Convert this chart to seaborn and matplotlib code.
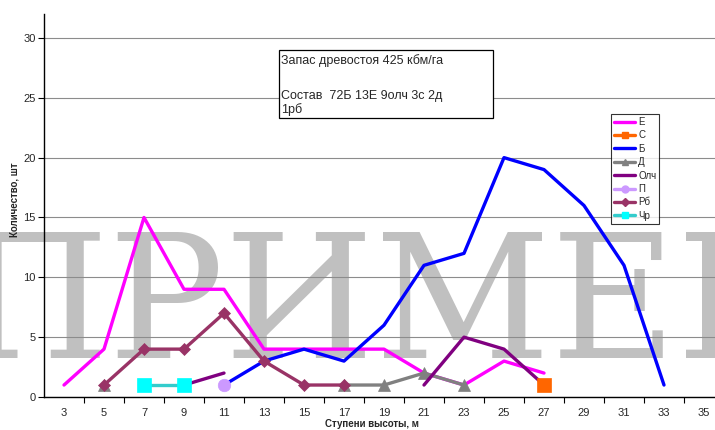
import matplotlib
matplotlib.use("Agg")
import matplotlib.pyplot as plt
from matplotlib.lines import Line2D
from matplotlib.patches import Rectangle
import numpy as np
import pandas as pd
import seaborn as sns

# Height classes (m) and tree counts per species
heights = [3, 5, 7, 9, 11, 13, 15, 17, 19, 21, 23, 25, 27, 29, 31, 33, 35]
N = None
spruce = [1, 4, 15, 9, 9, 4, 4, 4, 4, 2, 1, 3, 2, N, N, N, N]          # Е
pine = [N, N, N, N, N, N, N, N, N, N, N, N, 1, N, N, N, N]              # С
birch = [N, N, N, N, 1, 3, 4, 3, 6, 11, 12, 20, 19, 16, 11, 1, N]      # Б
oak = [N, 1, N, N, N, N, N, 1, 1, 2, 1, N, N, N, N, N, N]              # Д
alder = [N, N, N, 1, 2, N, N, N, N, 1, 5, 4, 1, N, N, N, N]            # Олч
fir = [N, N, N, N, 1, N, N, N, N, N, N, N, N, N, N, N, N]              # П
rowan = [N, 1, 4, 4, 7, 3, 1, 1, N, N, N, N, N, N, N, N, N]            # Рб
cherry = [N, N, 1, 1, N, N, N, N, N, N, N, N, N, N, N, N, N]           # Чр

species = ["Е", "С", "Б", "Д", "Олч", "П", "Рб", "Чр"]
values = [spruce, pine, birch, oak, alder, fir, rowan, cherry]

styles = {
    "Е":   dict(color="#FF00FF", marker=None, mfc=None, ms=0, lms=0, z=3),
    "С":   dict(color="#FF6600", marker="s", mfc="#FF6600", ms=10, lms=5, z=9),
    "Б":   dict(color="#0000FF", marker=None, mfc=None, ms=0, lms=0, z=3),
    "Д":   dict(color="#808080", marker="^", mfc="#808080", ms=8, lms=5, z=4),
    "Олч": dict(color="#800080", marker=None, mfc=None, ms=0, lms=0, z=4),
    "П":   dict(color="#CC99FF", marker="o", mfc="#CC99FF", ms=9, lms=5, z=5),
    "Рб":  dict(color="#993366", marker="D", mfc="#993366", ms=6, lms=4, z=6),
    "Чр":  dict(color="#33CCCC", marker="s", mfc="#00FFFF", ms=10, lms=5, z=7),
}

records = []
for name, vals in zip(species, values):
    for i, v in enumerate(vals):
        if v is not None:
            records.append((name, i, heights[i], v))
df = pd.DataFrame(records, columns=["species", "pos", "height", "count"])

sns.set_style("white")
plt.rcParams["font.family"] = ["Liberation Sans", "DejaVu Sans"]

fig = plt.figure(figsize=(7.15, 4.30), dpi=100)
fig.patch.set_facecolor("white")
ax = fig.add_axes([44 / 715, 33 / 430, 680 / 715, 383 / 430])
ax.set_facecolor("none")

# Watermark behind grid and data
ax.text(-42 / 715, 72 / 430, "ПРИМЕР", transform=fig.transFigure,
        family=["DejaVu Serif"], fontsize=124, color="#C0C0C0",
        ha="left", va="baseline", zorder=0.3, clip_on=False)

# Each species drawn as contiguous runs (gaps where no trees)
for name in species:
    st = styles[name]
    sub = df[df["species"] == name].sort_values("pos")
    run_id = (sub["pos"].diff() != 1).cumsum()
    for _, seg in sub.groupby(run_id):
        kw = dict(color=st["color"], lw=2.4, legend=False, zorder=st["z"])
        if st["marker"]:
            kw.update(marker=st["marker"], markersize=st["ms"],
                      markerfacecolor=st["mfc"], markeredgecolor=st["mfc"],
                      markeredgewidth=0.5)
        sns.lineplot(data=seg, x="pos", y="count", ax=ax, **kw)

ax.set_xlim(-0.5, len(heights) - 0.5)
ax.set_ylim(0, 32)
ax.set_yticks([0, 5, 10, 15, 20, 25, 30])
ax.set_xticks(range(len(heights)))
ax.set_xticklabels([str(h) for h in heights])
ax.set_xticks(np.arange(0.5, len(heights), 1), minor=True)
ax.tick_params(axis="x", which="major", length=0, pad=8, labelsize=8)
ax.tick_params(axis="x", which="minor", length=4, width=0.8, direction="out",
               color="black", bottom=True)
ax.tick_params(axis="y", which="major", length=4, width=0.8, direction="out",
               color="black", left=True, pad=2, labelsize=8)
ax.yaxis.grid(True, color="#8C8C8C", lw=0.8)
ax.xaxis.grid(False)
ax.set_axisbelow(True)
for s in ["top", "right"]:
    ax.spines[s].set_visible(False)
for s in ["left", "bottom"]:
    ax.spines[s].set_color("black")
    ax.spines[s].set_linewidth(1.0)
ax.set_xlabel("")
ax.set_ylabel("")

fig.text(15 / 715, 1 - 200 / 430, "Количество, шт", rotation=90, ha="center",
         va="center", fontsize=7, fontweight="bold")
fig.text(372 / 715, 1 - 419 / 430, "Ступени высоты, м", ha="center", va="top",
         fontsize=7, fontweight="bold")

# Stand description box
fig.add_artist(Rectangle((279 / 715, 1 - 118 / 430), 214 / 715, 68 / 430,
                         transform=fig.transFigure, facecolor="white",
                         edgecolor="black", lw=0.9, zorder=10))
for ypix, line in [(61, "Запас древостоя 425 кбм/га"),
                   (96, "Состав  72Б 13Е 9олч 3с 2д"),
                   (110, "1рб")]:
    fig.text(281 / 715, 1 - ypix / 430, line, ha="left", va="center",
             fontsize=9, zorder=11)

# Legend
handles = []
for name in species:
    st = styles[name]
    handles.append(Line2D([0], [0], color=st["color"], lw=2.4,
                          marker=st["marker"] if st["marker"] else None,
                          markersize=st["lms"], markerfacecolor=st["mfc"],
                          markeredgecolor=st["mfc"]))
leg = fig.legend(handles, species, loc="upper left",
                 bbox_to_anchor=(611 / 715, 1 - 114 / 430),
                 fontsize=7, frameon=True, fancybox=False, shadow=False,
                 handlelength=2.2, handletextpad=0.3, labelspacing=0.35,
                 borderpad=0.3, borderaxespad=0)
leg.get_frame().set_edgecolor("black")
leg.get_frame().set_linewidth(0.8)
leg.set_zorder(12)

fig.savefig("out.png", dpi=100)
